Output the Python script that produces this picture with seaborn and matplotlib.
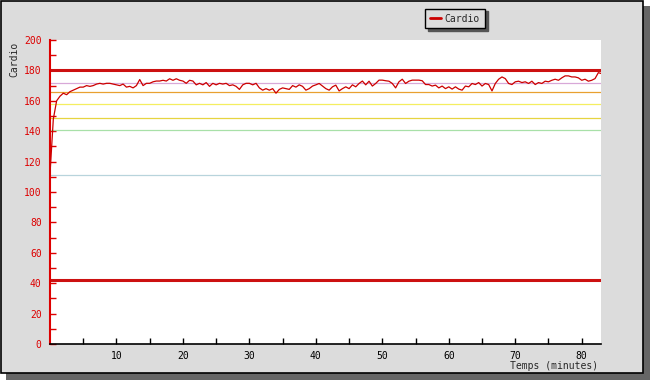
import numpy as np
import matplotlib
matplotlib.use("Agg")
import matplotlib.pyplot as plt
from matplotlib.patches import Rectangle
from matplotlib.ticker import FixedLocator, MultipleLocator
import seaborn as sns

# heart rate trace, one sample every 30 s (last one at the end of the session)
minutes = np.append(np.arange(0, 83, 0.5), 82.9)
cardio = [
    112, 148, 160, 163, 165, 164, 166, 167, 168, 169,
    169, 170, 169.5, 170, 171, 171.5, 171, 171.5, 171.5, 171,
    170.5, 170, 171, 169, 169.5, 168.5, 170, 174, 170, 171.5,
    171.5, 172.5, 173, 173, 173.5, 173, 174.5, 173.5, 174.5, 173.5,
    173, 171.5, 173.5, 173, 170.5, 171.5, 170.5, 172, 169.5, 171.5,
    170.5, 171.5, 171, 171.5, 170, 170.5, 169.5, 167.5, 170.5, 171.5,
    171.5, 170.5, 171.5, 168.5, 167, 168, 167, 168, 165, 167.5,
    168.5, 168, 167.5, 170, 169, 170.5, 169.5, 167, 168, 169.7,
    170.5, 171.4, 169.7, 168, 167, 169.2, 170.3, 166.5, 168, 169.2,
    168, 170.5, 169.2, 171.4, 173, 170.5, 172.9, 169.7, 171.4, 173.6,
    173.6, 173.2, 172.9, 171.4, 168.5, 172.5, 174.2, 171.4, 172.9, 173.6,
    173.6, 173.6, 173.2, 170.7, 170.7, 169.7, 170.3, 168.5, 169.7, 168,
    169.2, 167.7, 169.2, 167.7, 167, 169.7, 169.2, 171.4, 170.7, 172,
    169.7, 171.4, 170.7, 166.5, 171.4, 174.2, 175.7, 174.6, 171.4, 170.7,
    172.5, 172.9, 172, 172.5, 171.4, 172.9, 170.7, 172, 171.4, 172.9,
    172.5, 173.5, 174.2, 173.5, 175.1, 176.4, 176.4, 175.7, 175.7, 175.1,
    173.5, 174.2, 172.9, 173.5, 174.6, 178.5,
    178,
]

# heart rate limits and training zones
hr_max = 180
hr_rest = 42
zone_levels = [172, 166, 158, 148.5, 140.5, 111]
zone_colors = ["#d8a8d8", "#e8a030", "#f4ee60", "#e6d440", "#a8e0a8", "#b8d4dc"]

x_ticks = [10, 20, 30, 40, 50, 60, 70, 80]
x_minor = [5, 15, 25, 35, 45, 55, 65, 75]

sns.set_style("white")
plt.rcParams["font.family"] = ["DejaVu Sans Mono"]

fig = plt.figure(figsize=(6.5, 3.8), dpi=100, facecolor="white")

# gray panel with drop shadow behind everything
fig.patches.append(Rectangle((6 / 650, 0), 644 / 650, 374 / 380,
                             transform=fig.transFigure, facecolor="#666666",
                             edgecolor="none", zorder=-3))
fig.patches.append(Rectangle((0.5 / 650, 7 / 380), 642 / 650, 372.5 / 380,
                             transform=fig.transFigure, facecolor="#dcdcdc",
                             edgecolor="black", linewidth=1.2, zorder=-2))

ax = fig.add_axes([50 / 650, 36 / 380, 551 / 650, 304 / 380])
ax.set_facecolor("white")

for level, col in zip(zone_levels, zone_colors):
    ax.axhline(level, color=col, lw=0.9, zorder=1)
ax.axhline(hr_max, color="#cc1111", lw=2.2, zorder=2)
ax.axhline(hr_rest, color="#cc1111", lw=2.2, zorder=2)

sns.lineplot(x=minutes, y=cardio, color="#cc0000", lw=0.9, label="Cardio",
             estimator=None, sort=False, ax=ax, zorder=3)

ax.set_xlim(0, 82.9)
ax.set_ylim(0, 200)

ax.xaxis.set_major_locator(FixedLocator(x_ticks))
ax.xaxis.set_minor_locator(FixedLocator(x_minor))
ax.yaxis.set_major_locator(MultipleLocator(20))
ax.yaxis.set_minor_locator(MultipleLocator(10))

ax.tick_params(axis="x", which="both", bottom=True, direction="in", length=4,
               width=1, color="black", labelcolor="black", labelsize=7, pad=5)
ax.tick_params(axis="y", which="both", left=True, direction="in", length=4,
               width=1, color="#dd0000", labelcolor="#dd0000", labelsize=7, pad=6)

for side in ["top", "right"]:
    ax.spines[side].set_visible(False)
ax.spines["left"].set_color("#dd0000")
ax.spines["left"].set_linewidth(1.5)
ax.spines["bottom"].set_color("black")
ax.spines["bottom"].set_linewidth(1.2)

ax.set_xlabel("Temps (minutes)", loc="right", fontsize=7)
ax.xaxis.set_label_coords(548 / 551, -22 / 304)
ax.xaxis.label.set_va("center")
ax.set_ylabel("Cardio", loc="top", fontsize=7)
ax.yaxis.set_label_coords(-35.5 / 551, 302 / 304)
ax.yaxis.label.set_va("center")

leg = ax.legend(loc="center", bbox_to_anchor=(455 / 650, 1 - 18.5 / 380),
                bbox_transform=fig.transFigure, fontsize=7, frameon=True,
                fancybox=False, shadow={"color": "#555555", "alpha": 1},
                facecolor="#dcdcdc", edgecolor="black", framealpha=1,
                handlelength=1.1, handletextpad=0.4, borderpad=0.5)
leg.get_frame().set_linewidth(1)
leg.get_lines()[0].set_linewidth(2)

fig.savefig("out.png", dpi=100)
